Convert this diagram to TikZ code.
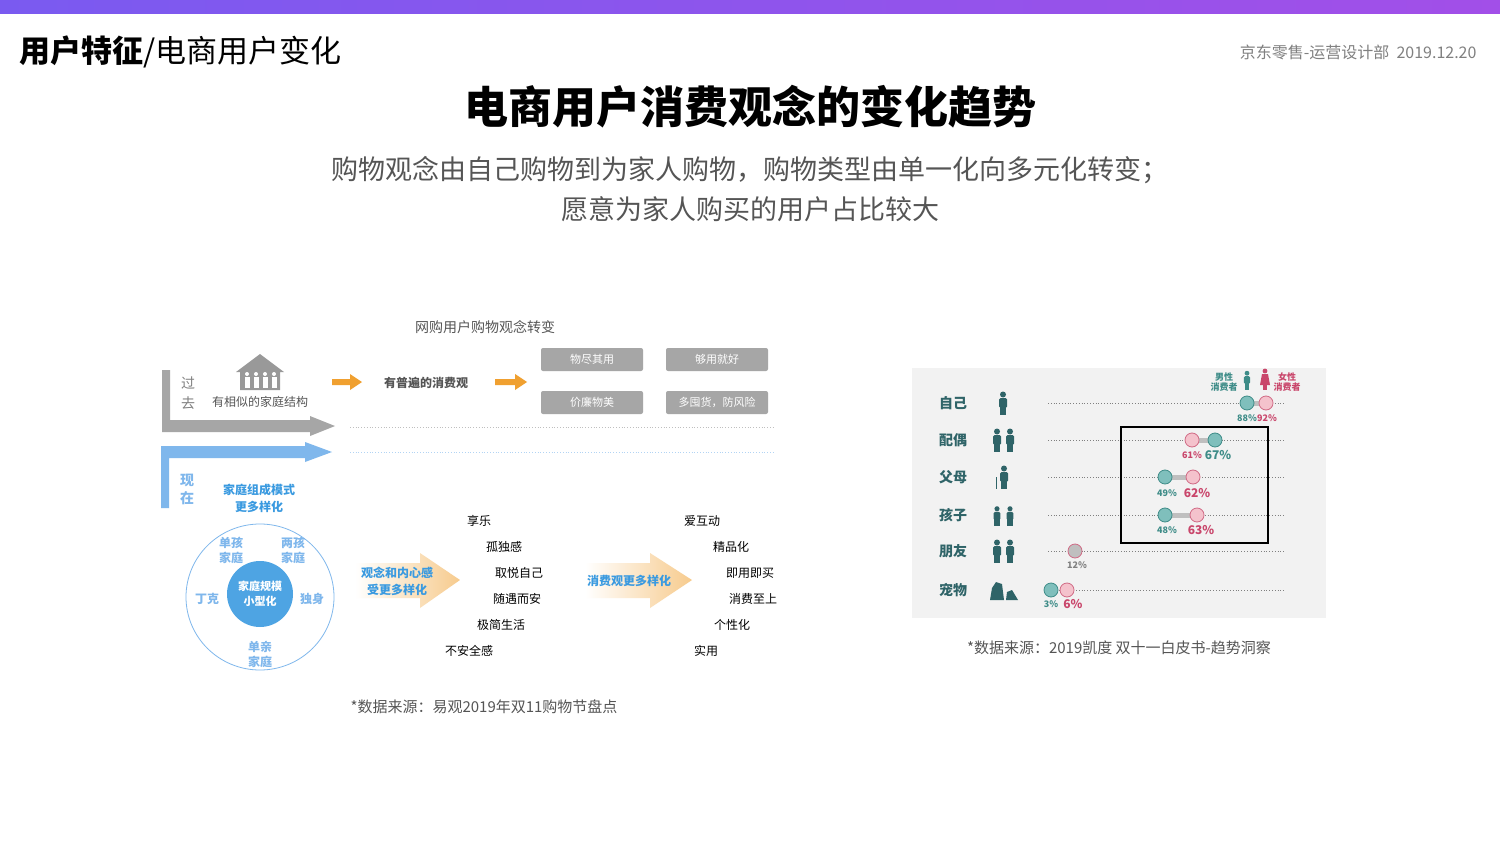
\documentclass[tikz,border=0pt]{standalone}
\usepackage{fontspec}
\setmainfont{Noto Sans CJK SC}
\usetikzlibrary{shapes.geometric,fadings}
\definecolor{tealc}{HTML}{2F6468}
\definecolor{tealf}{HTML}{7FBFBC}
\definecolor{teals}{HTML}{3E8C88}
\definecolor{pinkf}{HTML}{F4C2CC}
\definecolor{pinks}{HTML}{D06A85}
\definecolor{pinkt}{HTML}{C9466B}
\definecolor{lblue}{HTML}{7FB7EC}
\definecolor{mblue}{HTML}{3A9AE0}
\definecolor{gtxt}{HTML}{555555}
\definecolor{orng}{HTML}{F0A030}
\definecolor{barl}{HTML}{7A5AF0}
\definecolor{barr}{HTML}{A24FE8}
\tikzset{
 fs/.style={font=\fontsize{#1}{#1}\selectfont},
 gbox/.style={fill=black!35,rounded corners=2pt,minimum width=102pt,minimum height=23pt,text=white,fs=11},
 wlist/.style={fs=12,text=black},
 rlab/.style={fs=14,text=tealc,font=\fontsize{14}{14}\selectfont\bfseries},
 tc/.style={circle,draw=teals,fill=tealf,minimum size=14pt,inner sep=0pt,line width=0.8pt},
 pc/.style={circle,draw=pinks,fill=pinkf,minimum size=14pt,inner sep=0pt,line width=0.8pt},
 dotl/.style={gray,dotted,line width=0.8pt},
 person/.pic={\fill[#1] (0,-8.5) circle (3);\fill[#1,rounded corners=1.5pt] (-4,-5) rectangle (4,5);\fill[#1] (-3,4) rectangle (-0.3,12);\fill[#1] (0.3,4) rectangle (3,12);},
}
\begin{document}
\begin{tikzpicture}[x=1pt,y=-1pt]
\useasboundingbox (0,0) rectangle (1500,843);
\fill[white] (0,0) rectangle (1500,843);
\shade[left color=barl,right color=barr] (0,0) rectangle (1500,14);
\node[anchor=west,fs=31] (hd) at (16,52) {\textbf{用户特征}/电商用户变化};
\node[anchor=east,fs=16,text=gray] (dt) at (1480,52) {京东零售-运营设计部\ \ 2019.12.20};
\node[fs=44,font=\fontsize{44}{44}\selectfont\bfseries] (tt) at (750,107) {电商用户消费观念的变化趋势};
\node[fs=27,text=gtxt] (s1) at (750,170) {购物观念由自己购物到为家人购物，购物类型由单一化向多元化转变；};
\node[fs=27,text=gtxt] (s2) at (750,209) {愿意为家人购买的用户占比较大};
% left diagram
\node[fs=14,text=gtxt] (lt) at (485,327) {网购用户购物观念转变};
\fill[black!35] (162,370) -- (170,370) -- (170,420) -- (310,420) -- (310,416) -- (335,426) -- (310,436) -- (310,432) -- (162,432) -- cycle;
\node[fs=14,text=gray] (g1) at (188,383) {过};
\node[fs=14,text=gray] (g2) at (188,403) {去};
\fill[black!40] (236,372) -- (260,354) -- (284,372) -- (280,372) -- (280,390) -- (240,390) -- (240,372) -- cycle;
\foreach \xx in {247,256,265,274}{\fill[white] (\xx,374) circle (2);\fill[white] (\xx-2.5,377) rectangle (\xx+2.5,388);}
\node[fs=12,text=gtxt] (hs) at (260,402) {有相似的家庭结构};
\fill[orng] (332,379) -- (350,379) -- (350,374) -- (362,382) -- (350,390) -- (350,385) -- (332,385) -- cycle;
\node[fs=12,font=\fontsize{12}{12}\selectfont\bfseries,text=gtxt] (pb) at (426,383) {有普遍的消费观};
\fill[orng] (495,379) -- (515,379) -- (515,374) -- (527,382) -- (515,390) -- (515,385) -- (495,385) -- cycle;
\node[gbox] (b1) at (592,359.5) {物尽其用};
\node[gbox] (b2) at (717,359.5) {够用就好};
\node[gbox] (b3) at (592,402.5) {价廉物美};
\node[gbox] (b4) at (717,402.5) {多囤货，防风险};
\draw[black!25,dotted,line width=0.8pt] (350,427) -- (775,427);
\draw[lblue!60,dotted,line width=0.8pt] (350,452) -- (775,452);
\fill[lblue] (161,508) -- (169,508) -- (169,458) -- (305,458) -- (305,462) -- (332,452) -- (305,442) -- (305,446) -- (161,446) -- cycle;
\node[fs=14,text=lblue,font=\fontsize{14}{14}\selectfont\bfseries] (x1) at (187,480) {现};
\node[fs=14,text=lblue,font=\fontsize{14}{14}\selectfont\bfseries] (x2) at (187,498) {在};
\node[text=mblue,font=\fontsize{12}{17}\selectfont\bfseries,align=center] (jt) at (259,498) {家庭组成模式\\更多样化};
\draw[lblue,line width=0.8pt] (260,597) ellipse (74 and 73);
\node[circle,fill=mblue!90,minimum size=66pt,text=white,font=\fontsize{11}{15}\selectfont\bfseries,align=center] (ic) at (260,594) {家庭规模\\小型化};
\node[text=lblue,font=\fontsize{12}{15}\selectfont\bfseries,align=center] (e1) at (231,550) {单孩\\家庭};
\node[text=lblue,font=\fontsize{12}{15}\selectfont\bfseries,align=center] (e2) at (293,550) {两孩\\家庭};
\node[text=lblue,font=\fontsize{12}{15}\selectfont\bfseries] (e3) at (207,599) {丁克};
\node[text=lblue,font=\fontsize{12}{15}\selectfont\bfseries] (e4) at (312,599) {独身};
\node[text=lblue,font=\fontsize{12}{15}\selectfont\bfseries,align=center] (e5) at (260,654) {单亲\\家庭};
\shade[left color=white,right color=orng!55] (355,563) -- (420,563) -- (420,553) -- (460,580) -- (420,608) -- (420,598) -- (355,598) -- cycle;
\node[text=mblue,font=\fontsize{12}{17}\selectfont\bfseries,align=center] (a1) at (397,581) {观念和内心感\\受更多样化};
\shade[left color=white,right color=orng!55] (585,563) -- (650,563) -- (650,553) -- (692,580) -- (650,608) -- (650,598) -- (585,598) -- cycle;
\node[text=mblue,font=\fontsize{12}{17}\selectfont\bfseries] (a2) at (629,581) {消费观更多样化};
\node[wlist] (w1) at (479,521) {享乐};
\node[wlist] (w2) at (504,547) {孤独感};
\node[wlist] (w3) at (519,573) {取悦自己};
\node[wlist] (w4) at (517,599) {随遇而安};
\node[wlist] (w5) at (501,625) {极简生活};
\node[wlist] (w6) at (469,651) {不安全感};
\node[wlist] (v1) at (702,521) {爱互动};
\node[wlist] (v2) at (731,547) {精品化};
\node[wlist] (v3) at (750,573) {即用即买};
\node[wlist] (v4) at (753,599) {消费至上};
\node[wlist] (v5) at (732,625) {个性化};
\node[wlist] (v6) at (706,651) {实用};
\node[fs=15,text=gtxt] (src1) at (484,707) {*数据来源：易观2019年双11购物节盘点};
% right panel
\fill[black!5] (912,368) rectangle (1326,618);
\foreach \yy/\lb [count=\i] in {403/自己,440/配偶,477/父母,515/孩子,551/朋友,590/宠物}{
 \node[rlab] (r\i) at (953,\yy) {\lb};
 \draw[dotl] (1048,\yy) -- (1285,\yy);
}
\pic at (1003,403) {person=tealc};
\pic at (997,440) {person=tealc};\pic at (1010,440) {person=tealc};
\pic at (1004,477) {person=tealc};\draw[tealc,line width=1pt] (996,477) -- (996,489);
\pic[scale=0.85] at (997,516) {person=tealc};\pic[scale=0.85] at (1010,516) {person=tealc};
\pic at (997,551) {person=tealc};\pic at (1010,551) {person=tealc};
\fill[tealc] (990,600) -- (992,588) -- (996,582) -- (1002,584) -- (1004,600) -- cycle;
\fill[tealc] (1006,600) -- (1007,592) -- (1012,590) -- (1018,600) -- cycle;
\draw[black!25,line width=5pt] (1247,403) -- (1266,403);
\node[tc] (c1a) at (1247,403) {};\node[pc] (c1b) at (1266,403) {};
\draw[black!25,line width=5pt] (1192,440) -- (1215,440);
\node[pc] (c2a) at (1192,440) {};\node[tc] (c2b) at (1215,440) {};
\draw[black!25,line width=5pt] (1165,477) -- (1193,477);
\node[tc] (c3a) at (1165,477) {};\node[pc] (c3b) at (1193,477) {};
\draw[black!25,line width=5pt] (1165,515) -- (1197,515);
\node[tc] (c4a) at (1165,515) {};\node[pc] (c4b) at (1197,515) {};
\node[circle,draw=pinks,fill=black!25,minimum size=14pt,inner sep=0pt,line width=0.8pt] (c5) at (1075,551) {};
\node[tc] (c6a) at (1051,590) {};\node[pc] (c6b) at (1067,590) {};
\tikzset{sm/.style={font=\fontsize{9}{9}\selectfont\bfseries},bg/.style={font=\fontsize{12}{12}\selectfont\bfseries}}
\node[sm,text=teals] (p1) at (1247,418) {88\%};
\node[sm,text=pinkt] (p2) at (1267,418) {92\%};
\node[sm,text=pinkt] (p3) at (1192,455) {61\%};
\node[bg,text=teals] (p4) at (1218,455) {67\%};
\node[sm,text=teals] (p5) at (1167,493) {49\%};
\node[bg,text=pinkt] (p6) at (1197,493) {62\%};
\node[sm,text=teals] (p7) at (1167,530) {48\%};
\node[bg,text=pinkt] (p8) at (1201,530) {63\%};
\node[sm,text=gray] (p9) at (1077,565) {12\%};
\node[sm,text=teals] (p10) at (1051,604) {3\%};
\node[bg,text=pinkt] (p11) at (1073,604) {6\%};
\draw[black,line width=2pt] (1121,427) rectangle (1268,543);
\node[text=teals,font=\fontsize{9}{10}\selectfont\bfseries,align=center] (lm) at (1224,382) {男性\\消费者};
\pic[scale=0.8] at (1247,380) {person=teals};
\fill[pinkt] (1265,371) circle (2.4);\fill[pinkt] (1262,374) -- (1268,374) -- (1270,385) -- (1260,385) -- cycle;\fill[pinkt] (1263,385) rectangle (1267,390);
\node[text=pinkt,font=\fontsize{9}{10}\selectfont\bfseries,align=center] (lf) at (1287,382) {女性\\消费者};
\node[fs=15,text=gtxt] (src2) at (1119,648) {*数据来源：2019凯度 双十一白皮书-趋势洞察};
\end{tikzpicture}
\end{document}
